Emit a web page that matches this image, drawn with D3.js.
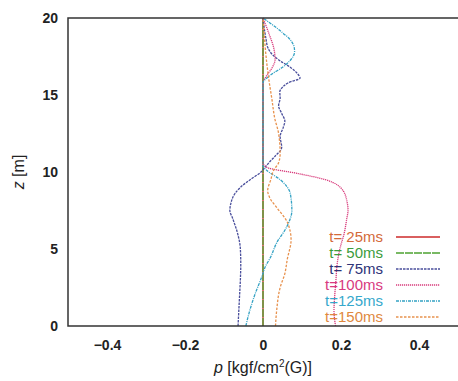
<!DOCTYPE html>
<html>
<head>
<meta charset="utf-8">
<script src="https://cdn.jsdelivr.net/npm/d3@7"></script>
<style>
  body { margin: 0; background: #fff; }
  svg { font-family: "Liberation Sans", Arial, sans-serif; }
</style>
</head>
<body>
<script>
// series data: z [m] vs p [kgf/cm2(G)]
var z25 = [0, 20],
    p25 = [0, 0];
var z50 = [0, 20],
    p50 = [0, 0];
var z75 = [0, 1, 2, 3, 4, 5, 6, 7, 7.5, 8, 8.6, 9, 9.5, 10, 10.3, 10.6, 11, 11.6, 12.3, 12.9, 13.3, 13.8, 14.3, 14.8, 15.2, 15.5, 15.8, 16.1, 16.4, 16.8, 17.2, 17.6, 18.1, 18.6, 19.2, 20],
    p75 = [-0.064, -0.062, -0.06, -0.058, -0.057, -0.058, -0.065, -0.078, -0.085, -0.082, -0.072, -0.058, -0.033, -0.005, 0.005, 0.015, 0.03, 0.048, 0.044, 0.052, 0.056, 0.048, 0.04, 0.044, 0.043, 0.05, 0.065, 0.095, 0.088, 0.07, 0.045, 0.025, 0.012, 0.008, 0.004, 0];
var z100 = [0, 1, 2, 3, 4, 5, 6, 7, 7.5, 8, 8.8, 9.5, 9.9, 10.3, 10.6, 15.8, 16.2, 16.8, 17.3, 18, 19, 20],
    p100 = [0.186, 0.182, 0.184, 0.187, 0.19, 0.197, 0.208, 0.215, 0.218, 0.216, 0.205, 0.16, 0.09, 0.01, 0, 0, 0.008, 0.024, 0.031, 0.028, 0.015, 0];
var z125 = [0, 1, 2.1, 3.2, 3.8, 4.5, 5.4, 6.4, 7.5, 8.6, 9.5, 10.1, 10.4, 15.8, 16.1, 16.4, 16.8, 17.2, 17.5, 17.8, 18.1, 18.4, 18.7, 19, 19.3, 19.6, 20],
    p125 = [-0.044, -0.034, -0.02, -0.003, 0.005, 0.02, 0.035, 0.06, 0.074, 0.07, 0.044, 0.01, 0, 0, 0.01, 0.025, 0.05, 0.068, 0.077, 0.081, 0.08, 0.075, 0.066, 0.052, 0.038, 0.022, 0];
var z150 = [0, 1, 2.5, 3.4, 4.3, 5.6, 6.7, 7.7, 8.2, 8.8, 9.5, 10.1, 10.6, 11.2, 12.5, 13.5, 14.7, 16, 17, 18, 19, 20],
    p150 = [0.032, 0.035, 0.044, 0.056, 0.062, 0.072, 0.063, 0.035, 0.02, 0.012, 0.02, 0.027, 0.04, 0.044, 0.04, 0.03, 0.023, 0.015, 0.01, 0.006, 0.003, 0];

var seriesNames = ["t= 25ms", "t= 50ms", "t= 75ms", "t=100ms", "t=125ms", "t=150ms"];
var lineColors = ["#cc2a2a", "#4ea232", "#4a4f9c", "#d83c7c", "#34a2c4", "#e8924e"];
var textColors = ["#d46a3a", "#3c9c3c", "#2e3478", "#d83a80", "#36a8cc", "#e0883e"];
var dashes = [null, "8,1", "2.5,1", "1.2,0.8", "3,1,1,1", "2.5,1.5"];
var xTicks = [-0.4, -0.2, 0, 0.2, 0.4];
var yTicks = [0, 5, 10, 15, 20];

var series = [[z25, p25], [z50, p50], [z75, p75], [z100, p100], [z125, p125], [z150, p150]]
  .map(function(s, i) {
    return { name: seriesNames[i], pts: s[0].map((z, j) => ({z: z, p: s[1][j]})) };
  });

var W = 458, H = 381,
    margin = {top: 18, right: 0, bottom: 55, left: 68},
    width = W - margin.left - margin.right,
    height = H - margin.top - margin.bottom;

var x = d3.scaleLinear().domain([-0.5, 0.5]).range([0, width]);
var y = d3.scaleLinear().domain([0, 20]).range([height, 0]);

var svg = d3.select("body").append("svg")
    .attr("width", W).attr("height", H)
  .append("g")
    .attr("transform", "translate(" + margin.left + "," + margin.top + ")");

var line = d3.line()
    .x((d) => x(d.p))
    .y((d) => y(d.z))
    .curve(d3.curveMonotoneY);

svg.selectAll(".series")
    .data(series)
  .enter().append("path")
    .attr("class", "series")
    .attr("d", (d) => line(d.pts))
    .attr("fill", "none")
    .attr("stroke", (d, i) => lineColors[i])
    .attr("stroke-width", 1.3)
    .attr("stroke-dasharray", (d, i) => dashes[i]);

// frame: left, top, bottom
svg.append("path")
    .attr("d", "M" + width + ",0H0V" + height + "H" + width)
    .attr("fill", "none")
    .attr("stroke", "#333")
    .attr("stroke-width", 1.5);

var xAxis = svg.append("g")
    .attr("transform", "translate(0," + height + ")")
    .call(d3.axisBottom(x).tickValues(xTicks).tickSize(0).tickPadding(14)
      .tickFormat((d) => d === 0 ? "0" : d3.format(".1f")(d)));
var yAxis = svg.append("g")
    .call(d3.axisLeft(y).tickValues(yTicks).tickSize(0).tickPadding(10));

[xAxis, yAxis].forEach(function(a) {
  a.select(".domain").remove();
  a.selectAll("text")
    .attr("font-size", 14)
    .attr("font-weight", "bold")
    .attr("fill", "#222");
});

// axis titles
var xt = svg.append("text")
    .attr("x", x(0))
    .attr("y", height + 47)
    .attr("text-anchor", "middle")
    .attr("font-size", 16)
    .attr("fill", "#222");
xt.append("tspan").attr("font-style", "italic").text("p");
xt.append("tspan").text(" [kgf/cm");
xt.append("tspan").attr("font-size", 10).attr("dy", -6).text("2");
xt.append("tspan").attr("dy", 6).text("(G)]");

var yt = svg.append("text")
    .attr("transform", "translate(" + (-44) + "," + y(10) + ") rotate(-90)")
    .attr("text-anchor", "middle")
    .attr("font-size", 16)
    .attr("fill", "#222");
yt.append("tspan").attr("font-style", "italic").text("z");
yt.append("tspan").text(" [m]");

// legend
var legend = svg.selectAll(".legend")
    .data(series)
  .enter().append("g")
    .attr("class", "legend")
    .attr("transform", (d, i) => "translate(0," + (219 + i * 16) + ")");

legend.append("text")
    .attr("x", 315)
    .attr("dy", "0.35em")
    .attr("text-anchor", "end")
    .attr("font-size", 15)
    .attr("fill", (d, i) => textColors[i])
    .text((d) => d.name);

legend.append("line")
    .attr("x1", 328).attr("x2", 372)
    .attr("stroke", (d, i) => lineColors[i])
    .attr("stroke-width", 1.5)
    .attr("stroke-dasharray", (d, i) => dashes[i]);
</script>
</body>
</html>
